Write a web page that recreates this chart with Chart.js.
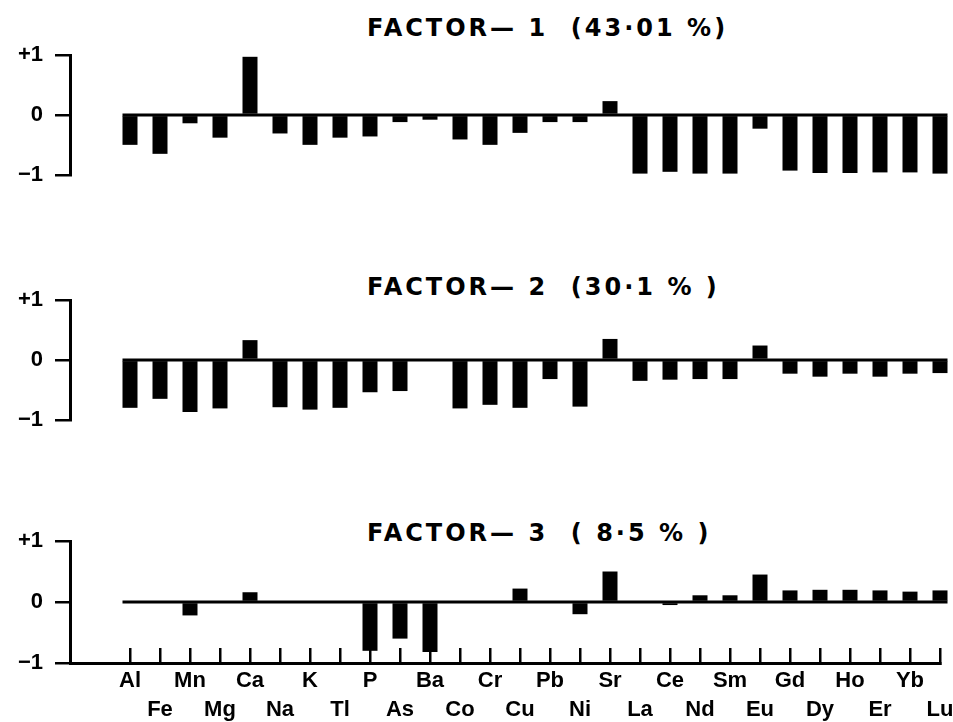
<!DOCTYPE html>
<html>
<head>
<meta charset="utf-8">
<script src="https://cdn.jsdelivr.net/npm/chart.js@4"></script>
<style>
  html, body { margin: 0; padding: 0; background: #fff; }
  body { width: 953px; height: 722px; position: relative; overflow: hidden; }
  canvas { position: absolute; left: 0; }
  .title { position: absolute; left: 367px; font-family: "DejaVu Sans", sans-serif; font-weight: bold;
           font-size: 24px; line-height: 24px; letter-spacing: 3px; white-space: pre; color: #000; }
</style>
</head>
<body>
<div class="title" id="t1" style="top:16px"></div>
<div class="title" id="t2" style="top:275px"></div>
<div class="title" id="t3" style="top:521px"></div>
<canvas id="c1" width="953" height="200" style="top:0px"></canvas>
<canvas id="c2" width="953" height="200" style="top:245px"></canvas>
<canvas id="c3" width="953" height="236" style="top:486px"></canvas>
<script>
const categories = ['Al','Fe','Mn','Mg','Ca','Na','K','Tl','P','As','Ba','Co','Cr','Cu','Pb','Ni','Sr','La','Ce','Nd','Sm','Eu','Gd','Dy','Ho','Er','Yb','Lu'];
const factor1 = [-0.50,-0.65,-0.14,-0.38,0.97,-0.31,-0.50,-0.38,-0.36,-0.12,-0.08,-0.41,-0.50,-0.30,-0.12,-0.12,0.23,-0.98,-0.95,-0.98,-0.98,-0.23,-0.93,-0.97,-0.97,-0.96,-0.96,-0.98];
const factor2 = [-0.80,-0.65,-0.87,-0.81,0.33,-0.79,-0.83,-0.80,-0.54,-0.52,0,-0.81,-0.75,-0.80,-0.32,-0.78,0.35,-0.35,-0.33,-0.32,-0.32,0.24,-0.23,-0.28,-0.23,-0.28,-0.23,-0.22];
const factor3 = [0,0,-0.22,0,0.16,0,0,0,-0.80,-0.60,-0.82,0,0,0.22,0,-0.20,0.50,0,-0.05,0.11,0.11,0.45,0.19,0.20,0.20,0.19,0.17,0.19];
const titles = ['FACTOR\u2014 1  (43\u00b701 %)', 'FACTOR\u2014 2  (30\u00b71 % )', 'FACTOR\u2014 3  ( 8\u00b75 % )'];
const yTickLabels = {'1': '+1', '0': '0', '-1': '\u22121'};

document.getElementById('t1').textContent = titles[0];
document.getElementById('t2').textContent = titles[1];
document.getElementById('t3').textContent = titles[2];

const zeroLine = {
  id: 'zeroLine',
  beforeDatasetsDraw(chart) {
    const meta = chart.getDatasetMeta(0);
    const y = chart.scales.y.getPixelForValue(0);
    let l = Infinity, r = -Infinity;
    meta.data.forEach(b => {
      const w = b.width;
      l = Math.min(l, b.x - w / 2);
      r = Math.max(r, b.x + w / 2);
    });
    const ctx = chart.ctx;
    ctx.save();
    ctx.strokeStyle = '#000';
    ctx.lineWidth = 3;
    ctx.beginPath();
    ctx.moveTo(l, y);
    ctx.lineTo(r, y);
    ctx.stroke();
    ctx.restore();
  }
};

function makeChart(id, values, showX) {
  const data = values.map((v, i) => ({x: i, y: v}));
  return new Chart(document.getElementById(id), {
    type: 'bar',
    data: { datasets: [{ data, backgroundColor: '#000', borderWidth: 0, barPercentage: 0.5, categoryPercentage: 1.0, clip: false }] },
    plugins: [zeroLine],
    options: {
      responsive: false,
      animation: false,
      events: [],
      layout: { padding: { top: 55, right: 13, left: 0, bottom: showX ? 0 : 25 } },
      plugins: { legend: { display: false }, tooltip: { enabled: false }, title: { display: false } },
      scales: {
        x: {
          type: 'linear', min: -2, max: 27, offset: false,
          display: showX,
          grid: { offset: false, drawOnChartArea: false, tickLength: -15, lineWidth: 2.5,
                  tickColor: (c) => (c.tick && c.tick.value >= 0) ? '#000' : 'rgba(0,0,0,0)' },
          border: { display: true, color: '#000', width: 3 },
          ticks: {
            stepSize: 1, autoSkip: false, maxRotation: 0, minRotation: 0, padding: 18.5, color: '#000',
            font: { family: 'Liberation Sans', weight: 'bold', size: 22, lineHeight: 1.32 },
            callback: (v) => {
              if (v < 0 || !Number.isInteger(v) || v >= categories.length) return '';
              return v % 2 === 0 ? [categories[v], ''] : ['', categories[v]];
            }
          },
          afterFit: (s) => {
            s.paddingLeft = 0; s.paddingRight = 0;
            if (showX) s.height = 59;
          }
        },
        y: {
          min: -1, max: 1,
          grid: { drawOnChartArea: false, tickLength: 15, lineWidth: 2.5, color: '#000', tickColor: '#000' },
          border: { display: true, color: '#000', width: 3 },
          ticks: { stepSize: 1, padding: 12, color: '#000',
                   font: { family: 'Liberation Sans', weight: 'bold', size: 22 },
                   callback: (v) => yTickLabels[String(v)] },
          afterFit: (s) => { s.width = 70; }
        }
      }
    }
  });
}

makeChart('c1', factor1, false);
makeChart('c2', factor2, false);
makeChart('c3', factor3, true);
</script>
</body>
</html>
